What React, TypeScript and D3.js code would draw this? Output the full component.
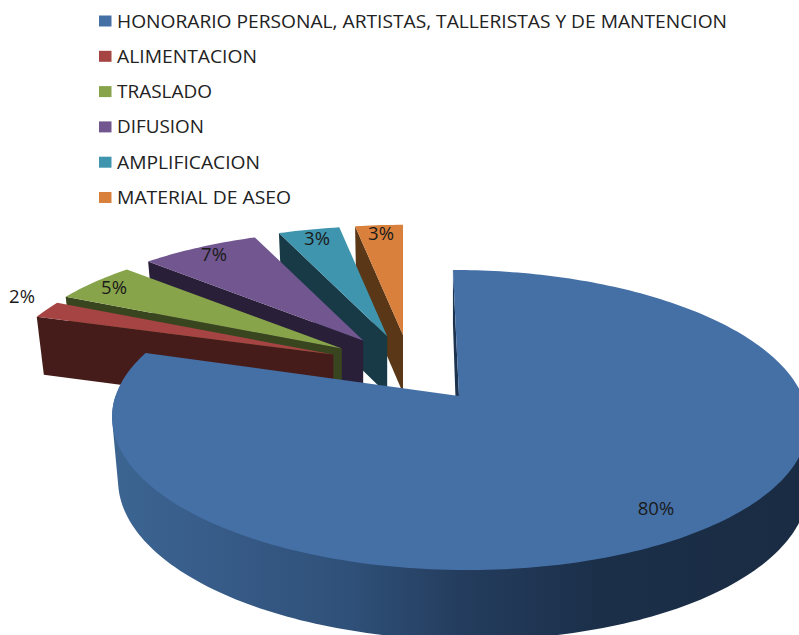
import React from "react";
import * as d3 from "d3";

const categories = [
  "HONORARIO PERSONAL, ARTISTAS, TALLERISTAS Y DE MANTENCION",
  "ALIMENTACION",
  "TRASLADO",
  "DIFUSION",
  "AMPLIFICACION",
  "MATERIAL DE ASEO",
];
const values = [80, 2.1, 4.9, 6.8, 3.49, 2.71];
const labels = ["80%", "2%", "5%", "7%", "3%", "3%"];
const topColors = ["#4570a6", "#a54442", "#88a44b", "#71568f", "#4095ae", "#d9813c"];
const wallColors = ["#1a2d45", "#451c19", "#38451f", "#2a1f38", "#183a47", "#5a3716"];
const legendWidths = [610, 140, 95, 87, 143, 174];
const labelPos: [number, number][] = [
  [656, 515], [22, 303], [114, 294], [214, 261], [317, 245], [381, 240],
];

const W = 799, H = 635;
const PK = 0.16, PQ = 146.2, PR = 343.5, PS = 7;
const MAIN = { x: 459, y: 396 };
const EX = { x: 410, y: 366, rx: 82.5, ry: 31, sx: 0.953, sy: 0.875 };
const DEPTH = 58;

type Pt = [number, number];
const line = d3.line<Pt>().x(d => d[0]).y(d => d[1]);

const arcs = d3.pie<number>().sort(null)(values);

function rim(a: number, ax: number, ay: number, sx = 1, sy = 1, shear = PS): Pt {
  const u = Math.sin(a), v = Math.cos(a), w = 1 + PK * v;
  return [ax + (sx * PR * u - shear * v) / w, ay - (sy * PQ * v) / w];
}
function samples(a0: number, a1: number): number[] {
  const n = Math.max(2, Math.ceil((a1 - a0) / 0.02));
  return d3.range(n + 1).map(i => a0 + ((a1 - a0) * i) / n);
}
// Lower rim of the main disk
function lowMain(a: number): Pt {
  const [x, y] = rim(a, MAIN.x, MAIN.y);
  const u = Math.sin(a), v = Math.cos(a);
  return [x + 3 * (1 - u) - 3 * Math.max(v, 0), y + 62 - 8 * v];
}

function Legend() {
  const y = d3.scaleLinear().domain([0, 5]).range([21, 197.5]);
  return (
    <g>
      {categories.map((c, i) => (
        <g key={c}>
          <rect x={99} y={y(i) - 5.5} width={12.5} height={11} fill={topColors[i]} />
          <text
            x={117}
            y={y(i) + 6.5}
            fontFamily="'Open Sans', sans-serif"
            fontSize={17.5}
            fill="#222"
            textLength={legendWidths[i]}
            lengthAdjust="spacingAndGlyphs"
          >
            {c}
          </text>
        </g>
      ))}
    </g>
  );
}

function ExplodedSlice({ i }: { i: number }) {
  const d = arcs[i];
  const mid = (d.startAngle + d.endAngle) / 2;
  const ax = EX.x + EX.rx * Math.sin(mid);
  const ay = EX.y - EX.ry * Math.cos(mid);
  const outer = samples(d.startAngle, d.endAngle).map(a => rim(a, ax, ay, EX.sx, EX.sy, 0));
  const apex: Pt = [ax, ay];
  const first = outer[0];
  const span = apex[0] - first[0];
  const wall: Pt[] = [
    apex,
    first,
    [first[0] + span * 0.024, first[1] + DEPTH],
    [apex[0], apex[1] + DEPTH],
  ];
  return (
    <g>
      <path d={line(wall) + "Z"} fill={wallColors[i]} />
      <path d={line([apex, ...outer]) + "Z"} fill={topColors[i]} />
    </g>
  );
}

function MainSlice() {
  const d = arcs[0];
  const angles = samples(d.startAngle, d.endAngle);
  const top = angles.map(a => rim(a, MAIN.x, MAIN.y));
  // The outer wall is the hull of the near half of both rims.
  const near = samples(Math.PI / 2, (3 * Math.PI) / 2);
  const hull = d3.polygonHull([
    ...near.map(a => rim(a, MAIN.x, MAIN.y)),
    ...near.map(lowMain),
  ] as Pt[]) as Pt[];
  const apex: Pt = [MAIN.x, MAIN.y];
  const sliver: Pt[] = [top[0], apex, [MAIN.x - 1.5, MAIN.y + 60], [top[0][0], top[0][1] + 55]];
  return (
    <g>
      <path d={line(sliver) + "Z"} fill="#1c3350" />
      <path d={line(hull) + "Z"} fill="url(#wallGrad)" />
      <path d={line([apex, ...top]) + "Z"} fill={topColors[0]} />
    </g>
  );
}

export default function App() {
  return (
    <svg
      width={W}
      height={H}
      viewBox={`0 0 ${W} ${H}`}
      style={{ position: "absolute", left: 0, top: 0, display: "block", background: "#fff" }}
    >
      <defs>
        <linearGradient id="wallGrad" gradientUnits="userSpaceOnUse" x1={112} x2={800} y1={0} y2={0}>
          <stop offset="0" stopColor="#3c6592" />
          <stop offset="0.13" stopColor="#385d8a" />
          <stop offset="0.346" stopColor="#2f5078" />
          <stop offset="0.506" stopColor="#243d5e" />
          <stop offset="0.71" stopColor="#1b2f49" />
          <stop offset="1" stopColor="#1a2c43" />
        </linearGradient>
      </defs>
      <Legend />
      {[5, 4, 3, 2, 1].map(i => <ExplodedSlice key={i} i={i} />)}
      <MainSlice />
      {labels.map((t, i) => (
        <text
          key={i}
          x={labelPos[i][0]}
          y={labelPos[i][1]}
          textAnchor="middle"
          fontFamily="'Open Sans', sans-serif"
          fontSize={18.5}
          fill="#1a1a1a"
        >
          {t}
        </text>
      ))}
    </svg>
  );
}
